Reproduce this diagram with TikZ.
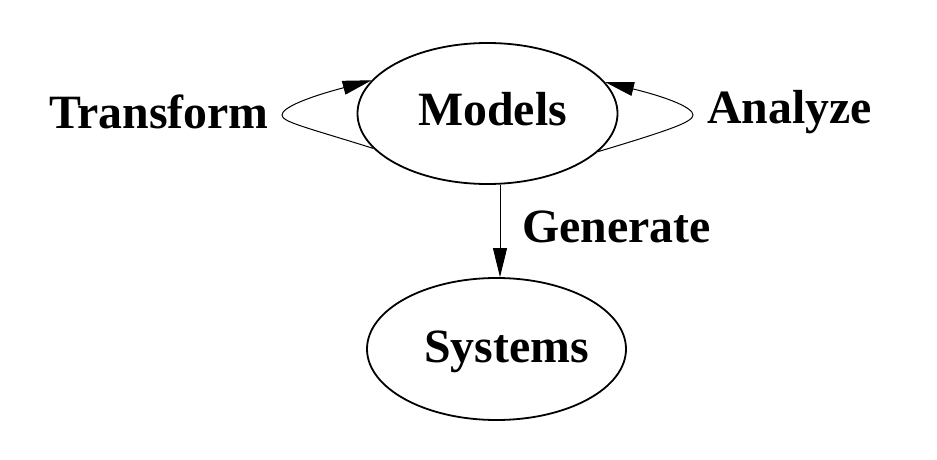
\documentclass[tikz,border=0pt]{standalone}
\usepackage{fontspec}
\setmainfont{Liberation Serif}
\usetikzlibrary{shapes.geometric,arrows.meta}
\begin{document}
\begin{tikzpicture}[x=1pt,y=-1pt,
  oval/.style={draw,ellipse,line width=1.8pt,inner sep=0pt},
  lbl/.style={anchor=base west,inner sep=0pt,font=\fontsize{47.8}{56}\selectfont\bfseries},
  edge/.style={line width=1pt,-{Triangle[length=29pt,width=14pt]}}]
\useasboundingbox (0,0) rectangle (937,460);
\node[oval,minimum width=260pt,minimum height=141pt] (models) at (487.5,113.5) {};
\node[oval,minimum width=259pt,minimum height=142pt] (systems) at (496.5,349) {};
\node[lbl] (modelstext) at (418,125) {Models};
\node[lbl] (systemstext) at (424,362) {Systems};
\node[lbl] (transform) at (49,128) {Transform};
\node[lbl] (analyze) at (707,123) {Analyze};
\node[lbl] (generate) at (522,242) {Generate};
\draw[edge] (models.197.5) .. controls (305,127) and (282,122) .. (282,115)
  .. controls (282,108) and (305,98) .. (models.164);
\draw[edge] (models.341.7) .. controls (670,130) and (693,122) .. (693,115)
  .. controls (693,108) and (670,98) .. (models.15);
\draw[edge] ([xshift=12.5pt]models.south) -- ([xshift=3.5pt]systems.north);
\end{tikzpicture}
\end{document}
